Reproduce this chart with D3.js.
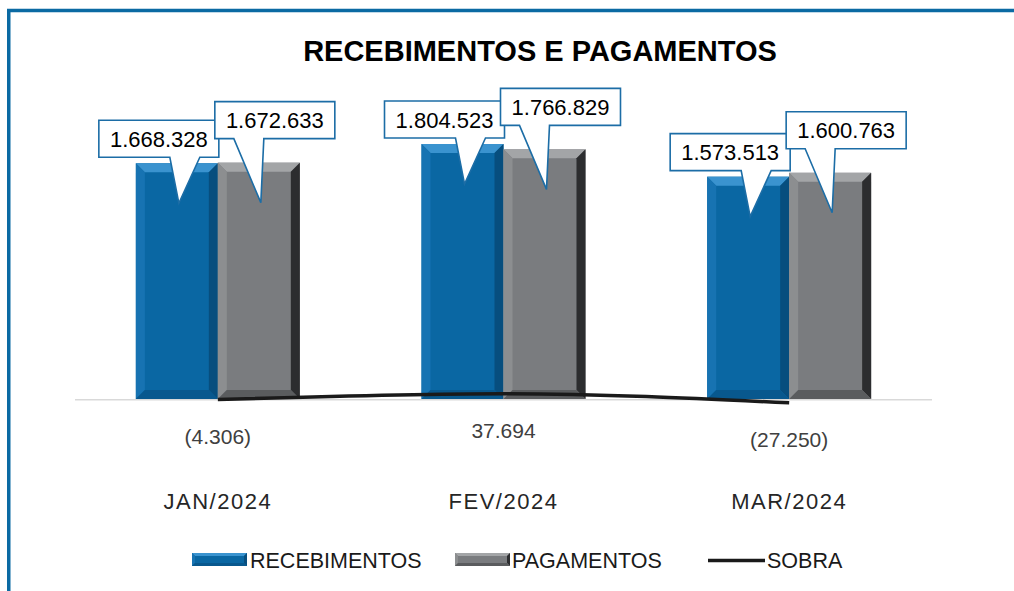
<!DOCTYPE html>
<html>
<head>
<meta charset="utf-8">
<script src="https://cdn.jsdelivr.net/npm/d3@7"></script>
<style>
  html, body { margin: 0; padding: 0; background: #fff; }
  svg { display: block; }
</style>
</head>
<body>
<svg id="chart" width="1014" height="591"></svg>
<script>
const title = "RECEBIMENTOS E PAGAMENTOS";
const categories = ["JAN/2024", "FEV/2024", "MAR/2024"];
const seriesNames = ["RECEBIMENTOS", "PAGAMENTOS", "SOBRA"];
const recebimentos = [1668328, 1804523, 1573513];
const pagamentos = [1672633, 1766829, 1600763];
const sobra = [-4306, 37694, -27250];

const fmt = v => {
  const s = d3.format(",")(Math.abs(v)).replace(/,/g, ".");
  return v < 0 ? "(" + s + ")" : s;
};

const svg = d3.select("#chart");
const font = "'Liberation Sans', Arial, sans-serif";

// frame border
svg.append("path")
  .attr("d", "M8.75,591 L8.75,10.6 L1014,10.6")
  .attr("fill", "none").attr("stroke", "#0B6AA3").attr("stroke-width", 3.5);

// title
svg.append("text")
  .attr("x", 540).attr("y", 61)
  .attr("text-anchor", "middle")
  .attr("font-family", font).attr("font-weight", "bold").attr("font-size", 29)
  .attr("fill", "#000")
  .text(title);

const x0 = d3.scaleBand().domain(categories).range([75, 932])
  .paddingInner(0.426).paddingOuter(0.213);
const x1 = d3.scaleBand().domain(["R", "P"]).range([0, x0.bandwidth()]);
const y = d3.scaleLinear().domain([0, 2000000]).range([399, 116.4]);

// axis baseline
svg.append("line")
  .attr("x1", 75).attr("x2", 932).attr("y1", 399.8).attr("y2", 399.8)
  .attr("stroke", "#D9D9D9").attr("stroke-width", 1.5);

const palettes = {
  R: { main: "#0A67A3", top: "#3A93CF", left: "#1773B2", right: "#074E7E", bottom: "#08588E" },
  P: { main: "#7A7C7F", top: "#A3A5A7", left: "#8C8E90", right: "#2C2D2F", bottom: "#5A5C5E" }
};

function bevelBar(g, x, yTop, w, h, pal, b) {
  g.append("rect").attr("x", x).attr("y", yTop).attr("width", w).attr("height", h).attr("fill", pal.main);
  const pts = a => a.map(p => p.join(",")).join(" ");
  const x2 = x + w, y2 = yTop + h;
  g.append("polygon").attr("points", pts([[x, yTop], [x2, yTop], [x2 - b, yTop + b], [x + b, yTop + b]])).attr("fill", pal.top);
  g.append("polygon").attr("points", pts([[x, yTop], [x + b, yTop + b], [x + b, y2 - b], [x, y2]])).attr("fill", pal.left);
  g.append("polygon").attr("points", pts([[x2, yTop], [x2, y2], [x2 - b, y2 - b], [x2 - b, yTop + b]])).attr("fill", pal.right);
  g.append("polygon").attr("points", pts([[x, y2], [x2, y2], [x2 - b, y2 - b], [x + b, y2 - b]])).attr("fill", pal.bottom);
}

const barData = [];
categories.forEach((c, i) => {
  barData.push({ cat: c, key: "R", value: recebimentos[i] });
  barData.push({ cat: c, key: "P", value: pagamentos[i] });
});

const barsG = svg.append("g");
barData.forEach(d => {
  const bx = x0(d.cat) + x1(d.key);
  const by = y(d.value);
  const g = barsG.append("g");
  bevelBar(g, bx, by, x1.bandwidth(), y(0) - by, palettes[d.key], 9);
});

// SOBRA line
const line = d3.line()
  .x((d, i) => x0(categories[i]) + x0.bandwidth() / 2)
  .y(d => y(d))
  .curve(d3.curveMonotoneX);
svg.append("path").datum(sobra)
  .attr("d", line)
  .attr("fill", "none").attr("stroke", "#1A1A1A").attr("stroke-width", 3.5)
  .attr("stroke-linecap", "butt");

// SOBRA labels
svg.append("g").selectAll("text").data(sobra).join("text")
  .attr("x", (d, i) => x0(categories[i]) + x0.bandwidth() / 2)
  .attr("y", d => y(d) + 44.5)
  .attr("text-anchor", "middle")
  .attr("font-family", font).attr("font-size", 21)
  .attr("fill", "#404040")
  .text(d => fmt(d));

// callouts
const calloutG = svg.append("g");
const bw = 120, bh = 37;
barData.forEach(d => {
  const bx = x0(d.cat) + x1(d.key);
  const cx = bx + x1.bandwidth() / 2;
  const top = y(d.value);
  let boxCx, boxBottom, b1, b2;
  if (d.key === "R") {
    boxCx = cx - 18; boxBottom = top - 6; b1 = boxCx + 11; b2 = boxCx + 41;
  } else {
    boxCx = cx + 16; boxBottom = top - 24; b1 = boxCx - 41; b2 = boxCx - 11;
  }
  const tipX = cx + 2, tipY = top + 40;
  const L = boxCx - bw / 2, R = boxCx + bw / 2, T = boxBottom - bh, B = boxBottom;
  const p = [[L, T], [R, T], [R, B], [b2, B], [tipX, tipY], [b1, B], [L, B]];
  calloutG.append("polygon")
    .attr("points", p.map(q => q.join(",")).join(" "))
    .attr("fill", "#fff").attr("stroke", "#1C6DA6").attr("stroke-width", 1.6)
    .attr("stroke-linejoin", "miter");
  calloutG.append("text")
    .attr("x", boxCx).attr("y", B - 10.5)
    .attr("text-anchor", "middle")
    .attr("font-family", font).attr("font-size", 22)
    .attr("fill", "#000")
    .text(fmt(d.value));
});

// category labels
svg.append("g").selectAll("text").data(categories).join("text")
  .attr("x", d => x0(d) + x0.bandwidth() / 2)
  .attr("y", 509)
  .attr("text-anchor", "middle")
  .attr("font-family", font).attr("font-size", 22)
  .attr("letter-spacing", 1.5)
  .attr("fill", "#262626")
  .text(d => d);

// legend
const legend = svg.append("g");
const legendItems = [
  { name: seriesNames[0], key: "R", sx: 192, tx: 250 },
  { name: seriesNames[1], key: "P", sx: 455, tx: 512 },
  { name: seriesNames[2], key: "L", sx: 708, tx: 767 }
];
legendItems.forEach(it => {
  if (it.key === "L") {
    legend.append("line").attr("x1", it.sx).attr("x2", it.sx + 57)
      .attr("y1", 560.5).attr("y2", 560.5)
      .attr("stroke", "#1A1A1A").attr("stroke-width", 3.5);
  } else {
    bevelBar(legend.append("g"), it.sx, 553, 55, 13, palettes[it.key], 3);
  }
  legend.append("text")
    .attr("x", it.tx).attr("y", 568)
    .attr("font-family", font).attr("font-size", 21.5)
    .attr("fill", "#1A1A1A")
    .text(it.name);
});
</script>
</body>
</html>
